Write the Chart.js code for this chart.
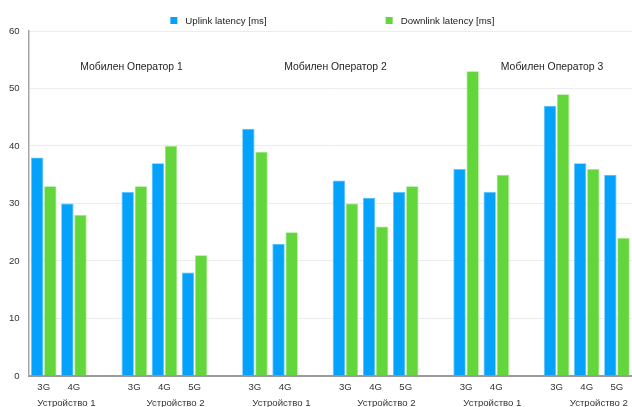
<!DOCTYPE html>
<html>
<head>
<meta charset="utf-8">
<script src="https://cdn.jsdelivr.net/npm/chart.js@4/dist/chart.umd.min.js"></script>
<style>
  html, body { margin: 0; padding: 0; background: #ffffff; }
  #wrap { width: 632px; height: 407px; position: relative; }
</style>
</head>
<body>
<div id="wrap"><canvas id="chart"></canvas></div>
<script>
// Network type per slot; empty strings are spacer slots between device groups
const categories = ['3G', '4G', '', '3G', '4G', '5G', '',
                    '3G', '4G', '', '3G', '4G', '5G', '',
                    '3G', '4G', '', '3G', '4G', '5G'];

// Latency in milliseconds (null = spacer slot)
const uplinkLatency   = [38, 30, null, 32, 37, 18, null,
                         43, 23, null, 34, 31, 32, null,
                         36, 32, null, 47, 37, 35];
const downlinkLatency = [33, 28, null, 33, 40, 21, null,
                         39, 25, null, 30, 26, 33, null,
                         53, 35, null, 49, 36, 24];

const seriesNames = ['Uplink latency [ms]', 'Downlink latency [ms]'];
const operatorNames = ['Мобилен Оператор 1', 'Мобилен Оператор 2', 'Мобилен Оператор 3'];
const deviceNames = ['Устройство 1', 'Устройство 2', 'Устройство 1',
                     'Устройство 2', 'Устройство 1', 'Устройство 2'];
const yTicks = [0, 10, 20, 30, 40, 50, 60];

const FONT = '"Liberation Sans", Arial, Helvetica, sans-serif';
const BLUE = '#05a2fb';
const GREEN = '#62d63b';

// Draws the legend row, the operator headings and the device captions
const groupText = {
  id: 'groupText',
  afterDraw(chart, args, opts) {
    const ctx = chart.ctx;
    const x = chart.scales.x, y = chart.scales.y;
    const area = chart.chartArea;
    ctx.save();

    // legend
    ctx.font = '9.7px ' + FONT;
    ctx.textBaseline = 'middle';
    ctx.textAlign = 'left';
    const box = 7, gap = 8, spacing = 119;
    const w0 = ctx.measureText(chart.data.datasets[0].label).width;
    const w1 = ctx.measureText(chart.data.datasets[1].label).width;
    const total = box + gap + w0 + spacing + box + gap + w1;
    let lx = (area.left + area.right) / 2 + 2 - total / 2;
    const ly = 20.5;
    chart.data.datasets.forEach((ds, i) => {
      ctx.fillStyle = ds.backgroundColor;
      ctx.fillRect(lx, ly - box / 2, box, box);
      ctx.fillStyle = '#222';
      ctx.fillText(ds.label, lx + box + gap, ly + 0.5);
      lx += box + gap + (i === 0 ? w0 : w1) + spacing;
    });

    // operator headings
    ctx.font = '10.4px ' + FONT;
    ctx.textAlign = 'center';
    ctx.fillStyle = '#1e1e1e';
    opts.titleSlots.forEach((s, i) => {
      ctx.fillText(operatorNames[i], x.getPixelForValue(s), y.getPixelForValue(53.75));
    });

    // device captions under the network labels
    ctx.font = '9.6px ' + FONT;
    ctx.fillStyle = '#333';
    opts.deviceSlots.forEach((s, i) => {
      ctx.fillText(deviceNames[i], x.getPixelForValue(s), area.bottom + 27.5);
    });
    ctx.restore();
  }
};

new Chart(document.getElementById('chart'), {
  type: 'bar',
  data: {
    labels: categories,
    datasets: [
      { label: seriesNames[0], data: uplinkLatency, backgroundColor: BLUE,
        borderColor: '#56c0ff', borderWidth: 0.8 },
      { label: seriesNames[1], data: downlinkLatency, backgroundColor: GREEN,
        borderColor: '#9be77f', borderWidth: 0.8 }
    ]
  },
  options: {
    responsive: true,
    maintainAspectRatio: false,
    animation: false,
    devicePixelRatio: 1,
    categoryPercentage: 0.87,
    barPercentage: 0.94,
    layout: { padding: { top: 31, left: 0, right: 0, bottom: 7.5 } },
    plugins: {
      legend: { display: false },
      tooltip: { enabled: false },
      groupText: {
        titleSlots: [2.91, 9.67, 16.85],
        deviceSlots: [0.75, 4.37, 7.88, 11.36, 14.87, 18.4]
      }
    },
    scales: {
      x: {
        grid: { display: false, drawTicks: false },
        border: { display: true, color: '#9a9a9a', width: 2 },
        ticks: {
          autoSkip: false, maxRotation: 0, minRotation: 0, padding: 6,
          color: '#333', font: { family: FONT, size: 9.6 }
        }
      },
      y: {
        min: 0, max: 60,
        afterBuildTicks(scale) { scale.ticks = yTicks.map(v => ({ value: v })); },
        grid: { color: '#ececec', lineWidth: 1, drawTicks: false },
        border: { display: true, color: '#a6a6a6', width: 1.5 },
        ticks: {
          padding: 9, color: '#333', font: { family: FONT, size: 9.6 }
        }
      }
    }
  },
  plugins: [groupText]
});
</script>
</body>
</html>
